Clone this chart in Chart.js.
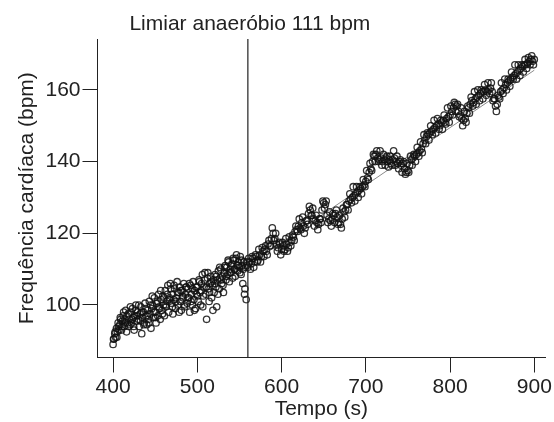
<!DOCTYPE html>
<html>
<head>
<meta charset="utf-8">
<script src="https://cdn.jsdelivr.net/npm/chart.js@4.4.1/dist/chart.umd.min.js"></script>
<style>
  html, body { margin: 0; padding: 0; background: #fff; }
  #wrap { width: 554px; height: 422px; }
</style>
</head>
<body>
<div id="wrap"><canvas id="hrChart" width="554" height="422"></canvas></div>
<script>
// --- Data ---

const times = [
  400,401,402,403,404,405,406,407,408,409,
  410,411,412,413,414,415,416,417,418,419,
  420,421,422,423,424,425,426,427,428,429,
  430,431,432,433,434,435,436,437,438,439,
  440,441,442,443,444,445,446,447,448,449,
  450,451,452,453,454,455,456,457,458,459,
  460,461,462,463,464,465,466,467,468,469,
  470,471,472,473,474,475,476,477,478,479,
  480,481,482,483,484,485,486,487,488,489,
  490,491,492,493,494,495,496,497,498,499,
  500,501,502,503,504,505,506,507,508,509,
  510,511,512,513,514,515,516,517,518,519,
  520,521,522,523,524,525,526,527,528,529,
  530,531,532,533,534,535,536,537,538,539,
  540,541,542,543,544,545,546,547,548,549,
  550,551,552,553,554,555,556,557,558,559,
  560,562,564,566,568,570,572,574,576,578,
  580,582,584,586,588,590,592,594,596,598,
  600,602,604,606,608,610,612,614,616,618,
  620,622,624,626,628,630,632,634,636,638,
  640,642,644,646,648,650,652,654,656,658,
  660,662,664,666,668,670,672,674,676,678,
  680,682,684,686,688,690,692,694,696,698,
  700,702,704,706,708,710,712,714,716,718,
  720,722,724,726,728,730,732,734,736,738,
  740,742,744,746,748,750,752,754,756,758,
  760,762,764,766,768,770,772,774,776,778,
  780,782,784,786,788,790,792,794,796,798,
  800,802,804,806,808,810,812,814,816,818,
  820,822,824,826,828,830,832,834,836,838,
  840,842,844,846,848,850,852,854,856,858,
  860,862,864,866,868,870,872,874,876,878,
  880,882,884,886,888,890,892,894,896,898,
  900
];

const heartRate = [
  89,90.5,92,91,93.5,92.5,95,93,94.5,96,
  93,95.5,97,94,96,98.5,92.5,95,97.5,96,
  94.5,98,95,99,96.5,93,97,100,95.5,98,
  96,94,97.5,99.5,92,96.5,98,95,100.5,97,
  94.5,98.5,96,101,97.5,93.5,99,100,96.5,102,
  98,95,100.5,97,103,99,96,101.5,98.5,102.5,
  100,97,104,99.5,101,105.5,98,102,106,100.5,
  103,97.5,101.5,104.5,99,102,106.5,100,103.5,105,
  101,98.5,104,102,106,99.5,103,105,100.5,104.5,
  102,98,105.5,103,100,106.5,101.5,104,99,103,
  105,101,107,103.5,100,106,108.5,102.5,105,109,
  103,96,107.5,104.5,101,106,108,102,105.5,107,
  103.5,108.5,105,99.5,107,109.5,104.5,107.5,110,106,
  108,103.5,109,111,107,110.5,108.5,112,106.5,110,
  109,111.5,107.5,112.5,110,108,113,111,109.5,112,
  110.5,113.5,108.5,111,106,112,103,110.5,101.5,111,
  110.5,112,111.5,113,112,113.5,112.5,114,113.5,115,
  115.5,115,117,116.5,118.5,120,118.5,117,116,117,
  115.5,116.5,115.5,117,116,117.5,118,119,120.5,121,
  122,121.5,123,122,121.5,123.5,125.5,126.5,125,124,
  123.5,123,122.5,124,126.5,128.5,128,125,124,123.5,
  124,125,125.5,124.5,123,122.5,124,126,126.5,128,
  129,129.5,130,130.5,131,131.5,132,132.5,133,133.5,
  134.5,135.5,137,138,140,141.5,142,141,140.5,141,
  140,140.5,141,140,140.5,139.5,140.5,141,140,139.5,
  140,139,139.5,138,137,137.5,139,140.5,141,141.5,
  142,142.5,143,143.5,145,146,147,147.5,148,148.5,
  149,149.5,150,150.5,150,151,151.5,151,152,152.5,
  153,154,155,156,155.5,154,153,152,151.5,152,
  153.5,155,156,157,156.5,157.5,158,158.5,159,159.5,
  159.5,160,159.5,160,160.5,159.5,157.5,155.5,156,158,
  159.5,160,160.5,161.5,162,162.5,163,163.5,164,164.5,
  165,165.5,166,166.5,167,167,167.5,168,168.5,168,
  168.5
];

// second pass of beats between the samples above
const timesB = [
  400.5,402.5,404.5,406.5,408.5,410.5,412.5,414.5,416.5,418.5,
  420.5,422.5,424.5,426.5,428.5,430.5,432.5,434.5,436.5,438.5,
  440.5,442.5,444.5,446.5,448.5,450.5,452.5,454.5,456.5,458.5,
  460.5,462.5,464.5,466.5,468.5,470.5,472.5,474.5,476.5,478.5,
  480.5,482.5,484.5,486.5,488.5,490.5,492.5,494.5,496.5,498.5,
  500.5,502.5,504.5,506.5,508.5,510.5,512.5,514.5,516.5,518.5,
  520.5,522.5,524.5,526.5,528.5,530.5,532.5,534.5,536.5,538.5,
  540.5,542.5,544.5,546.5,548.5,550.5,552.5,554.5,556.5,558.5,
  561,563,565,567,569,571,573,575,577,579,
  581,583,585,587,589,591,593,595,597,599,
  601,603,605,607,609,611,613,615,617,619,
  621,623,625,627,629,631,633,635,637,639,
  641,643,645,647,649,651,653,655,657,659,
  661,663,665,667,669,671,673,675,677,679,
  681,683,685,687,689,691,693,695,697,699,
  701,703,705,707,709,711,713,715,717,719,
  721,723,725,727,729,731,733,735,737,739,
  741,743,745,747,749,751,753,755,757,759,
  761,763,765,767,769,771,773,775,777,779,
  781,783,785,787,789,791,793,795,797,799,
  801,803,805,807,809,811,813,815,817,819,
  821,823,825,827,829,831,833,835,837,839,
  841,843,845,847,849,851,853,855,857,859,
  861,863,865,867,869,871,873,875,877,879,
  881,883,885,887,889,891,893,895,897,899
];

const heartRateB = [
  90.5,92.5,91,94,96.5,94,98,95,97,94,
  99.5,96,94,98.5,97,100,95.5,98,94.5,99,
  97,95,100,102.5,98,96.5,101,99.5,104,97.5,
  102,100,103,101.5,104.5,99.5,105.5,101,103.5,98,
  104,102.5,100,105,102,106,101,104.5,98.5,105,
  102.5,106.5,104,99.5,107,105,109,103.5,106.5,98.5,
  106,108,103,110.5,107,105.5,110.5,108,112.5,109,
  111,113,110,114,111,109,112.5,110,104.5,112,
  113,110,113.5,110.5,114,112,115.5,112,116,113.5,
  116.5,114,118,116.5,121.5,118,120,115,117.5,114,
  117.5,115,118.5,115,119,116.5,119.5,118,122,120.5,
  124,121,124.5,120,123.5,122.5,127.5,125,127,122,
  125,121,124,123,129,127,129,123,126,122,
  125.5,123,126.5,122.5,125,121.5,127,124.5,128,126.5,
  131,128.5,133,129,133,130,133,131,135,133,
  137.5,135,139.5,137.5,142,140,143,140,143,139,
  142,139,141.5,138.5,141.5,139,143,139,141.5,138,
  140.5,137,140,136.5,139.5,137,141.5,139,142,140,
  144,141.5,145.5,142.5,147.5,145,148,146,150,147.5,
  151.5,148,152,149,151.5,149,153,150.5,155,151,
  155.5,153,156.5,154,156,152.5,155,150,154,151,
  155.5,153.5,158,155.5,159.5,156,160,157,160,157.5,
  161.5,158.5,162,159,162,157,157.5,154,158.5,157.5,
  162,159,163,160,163,161,165,163,167,163,
  167,164,167,165,168.5,166,169,167,169.5,167
];

// two-segment linear fit meeting at the threshold
const fitTimes = [400, 560, 900];
const fitHr = [93.5, 111, 165.5];

const thresholdTime = 560;
const thresholdHr = 111;

const xTicks = [400, 500, 600, 700, 800, 900];
const yTicks = [100, 120, 140, 160];
const xMin = 381.5, xMax = 913;
const yMin = 85.35, yMax = 174.2;

// --- Chart ---

const ink = "#222";
Chart.defaults.font.family = '"Liberation Sans", Arial, Helvetica, sans-serif';
Chart.defaults.font.size = 21;
Chart.defaults.color = ink;

const thresholdLabel = {
  id: "thresholdLabel",
  afterDraw(chart) {
    const { ctx, scales } = chart;
    const x = scales.x.getPixelForValue(thresholdTime) + 2;
    ctx.save();
    ctx.fillStyle = ink;
    ctx.font = '21px "Liberation Sans", Arial, Helvetica, sans-serif';
    ctx.textAlign = "center";
    ctx.textBaseline = "alphabetic";
    ctx.fillText(`Limiar anaeróbio ${thresholdHr} bpm`, x, 30);
    ctx.restore();
  }
};

const scatterPoints = times.map((t, i) => ({ x: t, y: heartRate[i] }))
  .concat(timesB.map((t, i) => ({ x: t, y: heartRateB[i] })));
const fitPoints = fitTimes.map((t, i) => ({ x: t, y: fitHr[i] }));

new Chart(document.getElementById("hrChart"), {
  type: "scatter",
  data: {
    datasets: [
      {
        label: "Frequência cardíaca",
        data: scatterPoints,
        pointRadius: 3.2,
        pointBorderWidth: 1.3,
        pointBorderColor: "rgba(18,18,18,0.85)",
        pointBackgroundColor: "rgba(0,0,0,0)",
        order: 1
      },
      {
        type: "line",
        label: "Ajuste",
        data: fitPoints,
        borderColor: "#8a8a8a",
        borderWidth: 1,
        pointRadius: 0,
        fill: false,
        order: 2
      },
      {
        type: "line",
        label: "Limiar",
        data: [{ x: thresholdTime, y: yMin }, { x: thresholdTime, y: yMax }],
        borderColor: ink,
        borderWidth: 1.2,
        pointRadius: 0,
        fill: false,
        order: 0
      }
    ]
  },
  options: {
    responsive: false,
    animation: false,
    devicePixelRatio: 1,
    layout: { padding: { left: 0, right: 8, top: 39, bottom: 0 } },
    plugins: { legend: { display: false }, tooltip: { enabled: false } },
    scales: {
      x: {
        type: "linear",
        min: xMin,
        max: xMax,
        afterBuildTicks: s => { s.ticks = xTicks.map(v => ({ value: v })); },
        afterFit: s => { s.height = 64.5; },
        grid: { drawOnChartArea: false, drawTicks: true, tickLength: 15, color: ink, lineWidth: 1 },
        border: { display: true, color: ink, width: 1 },
        ticks: { padding: 2, maxRotation: 0, autoSkip: false, color: ink },
        title: { display: true, text: "Tempo (s)", padding: { top: 0, bottom: 0 }, color: ink }
      },
      y: {
        type: "linear",
        min: yMin,
        max: yMax,
        afterBuildTicks: s => { s.ticks = yTicks.map(v => ({ value: v })); },
        afterFit: s => { s.width = 97.5; },
        grid: { drawOnChartArea: false, drawTicks: true, tickLength: 15, color: ink, lineWidth: 1 },
        border: { display: true, color: ink, width: 1 },
        ticks: { padding: 2, color: ink },
        title: { display: true, text: "Frequência cardíaca (bpm)", padding: { top: 15, bottom: 0 }, color: ink }
      }
    }
  },
  plugins: [thresholdLabel]
});
</script>
</body>
</html>
